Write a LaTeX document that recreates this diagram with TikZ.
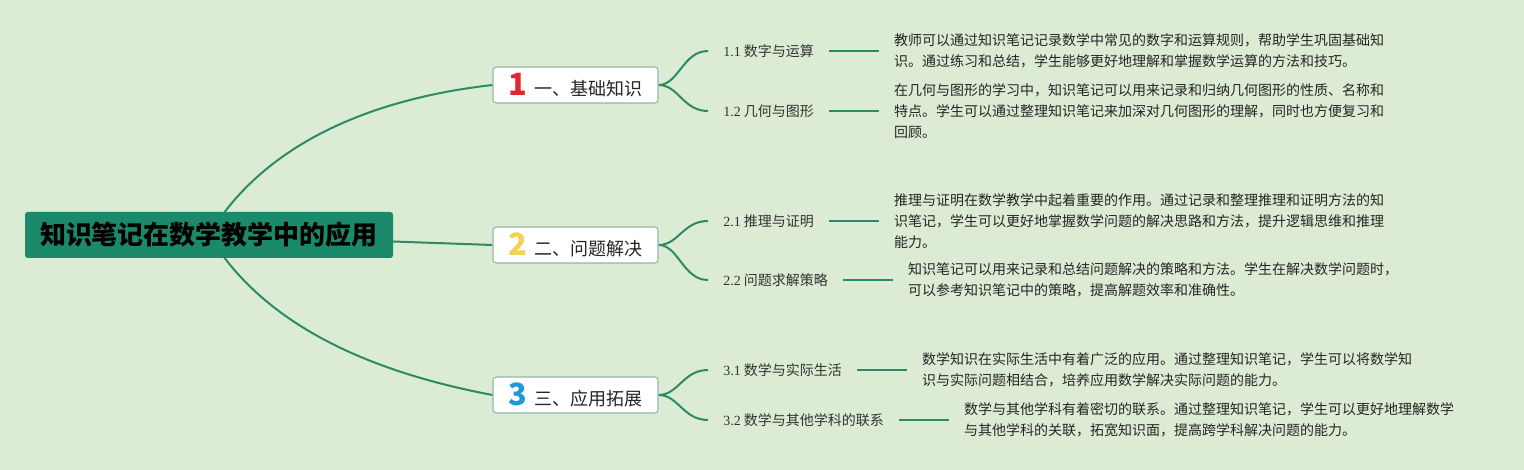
\documentclass[tikz,border=0pt]{standalone}
\usepackage{fontspec}
\setmainfont{Noto Sans CJK SC}
\newfontfamily\numfont{Liberation Serif}
\usetikzlibrary{positioning,backgrounds}
\definecolor{bggreen}{HTML}{DCEBD3}
\definecolor{rootgreen}{HTML}{1A8A6A}
\definecolor{linegreen}{HTML}{2B8B68}
\definecolor{boxline}{HTML}{95B7A7}
\definecolor{numred}{HTML}{E3262F}
\definecolor{numyellow}{HTML}{F3D250}
\definecolor{numblue}{HTML}{1E9BD7}
\newcommand{\topicnum}[2]{{\color{#1}\bfseries\fontsize{23pt}{23pt}\selectfont #2}\hspace{5pt}}

\begin{document}
\begin{tikzpicture}[x=0.75pt,y=-0.75pt,
    rootbox/.style={fill=rootgreen,rounded corners=2pt,minimum width=276pt,minimum height=34.5pt,
      inner xsep=0pt,font=\bfseries\fontsize{19.5pt}{24pt}\selectfont},
    topicbox/.style={draw=boxline,fill=white,rounded corners=2.5pt,line width=0.8pt,
      minimum width=123.75pt,minimum height=27pt,inner xsep=0pt,
      font=\fontsize{13.5pt}{16pt}\selectfont,text=black!85},
    sublabel/.style={inner xsep=11.25pt,font=\fontsize{10.5pt}{13pt}\selectfont,text=black!80},
    desc/.style={align=left,inner xsep=11pt,font=\fontsize{10.5pt}{15.75pt}\selectfont,text=black!85},
    link/.style={draw=linegreen,line width=1.5pt}]
    \useasboundingbox (0,0) rectangle (1524,470);
    % root and topics
    \node[rootbox] (root) at (209,235) {知识笔记在数学教学中的应用};
    \node[topicbox] (t1) at (575.5,85) {\topicnum{numred}{1}一、基础知识};
    \node[topicbox] (t2) at (575.5,245) {\topicnum{numyellow}{2}二、问题解决};
    \node[topicbox] (t3) at (575.5,395) {\topicnum{numblue}{3}三、应用拓展};
    % subtopics
    \node[sublabel,anchor=west] (s11) at (708,51) {{\numfont 1.1} 数字与运算};
    \node[sublabel,anchor=west] (s12) at (708,111) {{\numfont 1.2} 几何与图形};
    \node[sublabel,anchor=west] (s21) at (708,221) {{\numfont 2.1} 推理与证明};
    \node[sublabel,anchor=west] (s22) at (708,280) {{\numfont 2.2} 问题求解策略};
    \node[sublabel,anchor=west] (s31) at (708,370) {{\numfont 3.1} 数学与实际生活};
    \node[sublabel,anchor=west] (s32) at (708,420) {{\numfont 3.2} 数学与其他学科的联系};
    % descriptions
    \node[desc,right=37.5pt of s11] (d11) {教师可以通过知识笔记记录数学中常见的数字和运算规则，帮助学生巩固基础知\\识。通过练习和总结，学生能够更好地理解和掌握数学运算的方法和技巧。};
    \node[desc,right=37.5pt of s12] (d12) {在几何与图形的学习中，知识笔记可以用来记录和归纳几何图形的性质、名称和\\特点。学生可以通过整理知识笔记来加深对几何图形的理解，同时也方便复习和\\回顾。};
    \node[desc,right=37.5pt of s21] (d21) {推理与证明在数学教学中起着重要的作用。通过记录和整理推理和证明方法的知\\识笔记，学生可以更好地掌握数学问题的解决思路和方法，提升逻辑思维和推理\\能力。};
    \node[desc,right=37.5pt of s22] (d22) {知识笔记可以用来记录和总结问题解决的策略和方法。学生在解决数学问题时，\\可以参考知识笔记中的策略，提高解题效率和准确性。};
    \node[desc,right=37.5pt of s31] (d31) {数学知识在实际生活中有着广泛的应用。通过整理知识笔记，学生可以将数学知\\识与实际问题相结合，培养应用数学解决实际问题的能力。};
    \node[desc,right=37.5pt of s32] (d32) {数学与其他学科有着密切的联系。通过整理知识笔记，学生可以更好地理解数学\\与其他学科的关联，拓宽知识面，提高跨学科解决问题的能力。};
    % connectors
    \begin{scope}[on background layer]
      \fill[bggreen] (0,0) rectangle (1524,470);
      \draw[link] (root.center) .. controls (260,150) and (360,100) .. (t1.west);
      \draw[link] (root.center) -- (t2.west);
      \draw[link] (root.center) .. controls (260,320) and (360,370) .. (t3.west);
      \foreach \t/\s in {t1/s11,t1/s12,t2/s21,t2/s22,t3/s31,t3/s32}
        \draw[link] (\t.east) .. controls +(20,0) and +(-25,0) .. (\s.west);
      \foreach \s/\d in {s11/d11,s12/d12,s21/d21,s22/d22,s31/d31,s32/d32}
        \draw[link] (\s) -- (\d);
    \end{scope}
\end{tikzpicture}
\end{document}
